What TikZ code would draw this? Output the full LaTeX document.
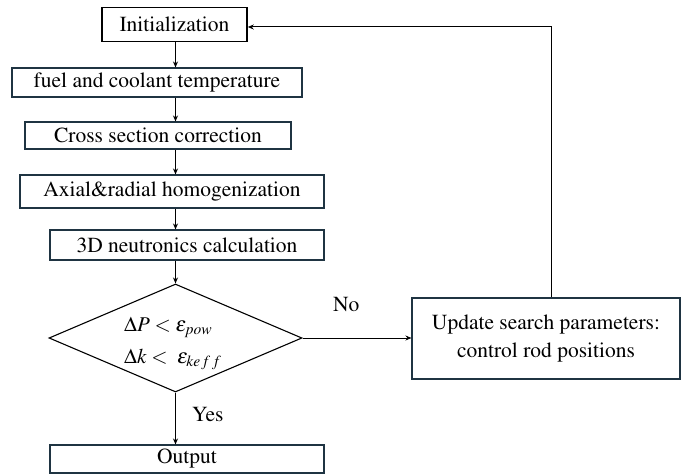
\documentclass[tikz,border=0pt]{standalone}
\usepackage[T1]{fontenc}
\usepackage{mathptmx}
\usetikzlibrary{shapes.geometric,arrows.meta}
\definecolor{boxline}{HTML}{1F3442}
\tikzset{
  box/.style={draw=boxline,line width=1.1pt,rectangle,inner sep=0pt,font=\fontsize{21.5}{24}\selectfont},
  startbox/.style={box,draw=black,line width=1.6pt},
  decision/.style={draw=black,line width=1.1pt,diamond,inner sep=0pt},
  arr/.style={draw=black,line width=1pt,-{Stealth[length=6pt,width=5pt]}},
  lbl/.style={font=\fontsize{21.5}{24}\selectfont,inner sep=0pt},
  mathlbl/.style={font=\fontsize{21}{24}\selectfont,inner sep=0pt,anchor=base west}
}
\begin{document}
\begin{tikzpicture}[x=1pt,y=-1pt]
\useasboundingbox (0,0) rectangle (681,476);
\node[startbox,minimum width=145pt,minimum height=34pt] (init) at (174.5,24.5) {Initialization};
\node[box,minimum width=290pt,minimum height=29pt] (fuel) at (157,82.5) {fuel and coolant temperature};
\node[box,minimum width=266pt,minimum height=27pt] (cross) at (158,135.5) {Cross section correction};
\node[box,minimum width=304pt,minimum height=33pt] (axial) at (172,191.5) {Axial\&radial homogenization};
\node[box,minimum width=274pt,minimum height=30pt] (neut) at (187,245) {3D neutronics calculation};
\node[decision,minimum width=253pt,minimum height=108pt] (dec) at (175.5,338) {};
\node[mathlbl] (cond1) at (124,331) {$\Delta P < \varepsilon_{pow}$};
\node[mathlbl] (cond2) at (124,363) {$\Delta k <\; \varepsilon_{ke\kern1pt f\kern2pt f}$};
\node[box,minimum width=274pt,minimum height=28pt] (out) at (187,459) {Output};
\node[box,minimum width=268pt,minimum height=81pt,align=center,font=\fontsize{21.5}{28}\selectfont] (upd) at (546,338.5) {Update search parameters:\\control rod positions};
\coordinate (xa) at (175.5,0);
\coordinate (corner) at (551,27);
\draw[arr] (init.south -| xa) -- (fuel.north -| xa);
\draw[arr] (fuel.south -| xa) -- (cross.north -| xa);
\draw[arr] (cross.south -| xa) -- (axial.north -| xa);
\draw[arr] (axial.south -| xa) -- (neut.north -| xa);
\draw[arr] (neut.south -| xa) -- (dec.north);
\draw[arr] (dec.south) -- (out.north -| dec.south);
\draw[arr] (dec.east) -- (upd.west |- dec.east);
\draw[arr] (upd.north -| corner) -- (corner) -- (init.east |- corner);
\node[lbl,anchor=west] (no) at (333,305) {No};
\node[lbl,anchor=west] (yes) at (192,415) {Yes};
\end{tikzpicture}
\end{document}
